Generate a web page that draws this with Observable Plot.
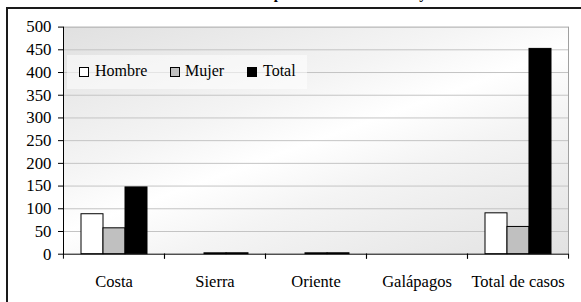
<!DOCTYPE html>
<html>
<head>
<meta charset="utf-8">
<script src="https://cdn.jsdelivr.net/npm/d3@7"></script>
<script src="https://cdn.jsdelivr.net/npm/@observablehq/plot@0.6"></script>
<style>
  html, body { margin: 0; padding: 0; background: #fff; }
  body { width: 581px; height: 302px; position: relative; overflow: hidden; font-family: "Liberation Serif", "DejaVu Serif", serif; }
  #frame { position: absolute; left: 6px; top: 7px; width: 700px; height: 400px; border: 2px solid #1a1a1a; box-sizing: border-box; }
  #title { position: absolute; left: 232px; top: -13.5px; font-size: 15px; line-height: 15px; font-weight: bold; white-space: nowrap; color: #000; }
  #bg { position: absolute; left: 63px; top: 26.6px; width: 505.7px; height: 227.1px;
        background: linear-gradient(160deg, #e0e0e0 0%, #f4f4f4 35%, #ffffff 50%, #f4f4f4 65%, #e2e2e2 100%); }
  #chart { position: absolute; left: 0; top: 0; }
  #legend { position: absolute; left: 67px; top: 55px; width: 240px; height: 34px; background: rgba(255,255,255,0.55); }
  .sw { position: absolute; top: 12px; width: 8px; height: 8px; border: 1px solid #000; box-sizing: content-box; }
  .lt { position: absolute; top: 8px; font-size: 16px; line-height: 16px; color: #000; white-space: nowrap; font-family: "Liberation Serif", "DejaVu Serif", serif; }
</style>
</head>
<body>
<div id="frame"></div>
<div id="title">Casos <span id="tp">p</span>or zona de residencia <span id="ty">y</span> sexo</div>
<div id="bg"></div>
<div id="chart"></div>
<div id="legend"></div>
<script>
// ---- data ----
const categories = ["Costa", "Sierra", "Oriente", "Galápagos", "Total de casos"];
const series = ["Hombre", "Mujer", "Total"];
const hombre = [88, 0, 0, 0, 90];
const mujer  = [57, 2, 2, 0, 60];
const total  = [147, 2, 2, 0, 452];
const yTicks = [0, 50, 100, 150, 200, 250, 300, 350, 400, 450, 500];
const seriesColors = ["#ffffff", "#c0c0c0", "#000000"];

const valuesBySeries = [hombre, mujer, total];
const data = categories.flatMap((cat, i) =>
  series.map((s, j) => ({cat, serie: s, value: valuesBySeries[j][i]}))
);

const W = 581, H = 302;
const mL = 63, mR = 12.3, mT = 26.6, mB = 48.3;
const halfBand = (W - mL - mR) / categories.length / 2;
const serifFont = "'Liberation Serif', 'DejaVu Serif', serif";

const chart = Plot.plot({
  width: W, height: H,
  marginLeft: mL, marginRight: mR, marginTop: mT, marginBottom: mB,
  style: { fontFamily: serifFont, fontSize: "16px", color: "#000", background: "transparent", overflow: "visible" },
  fx: { domain: categories, padding: 0, label: null, axis: null },
  x: { domain: series, paddingInner: 0, paddingOuter: 0.73, align: 0.5, axis: null },
  y: { domain: [0, 500], label: null, axis: null },
  color: { domain: series, range: seriesColors },
  marks: [
    Plot.ruleY(yTicks.filter(v => v > 0 && v < 500), { stroke: "#c4c4c4", strokeWidth: 1 }),
    Plot.ruleY([500], { stroke: "#a8a8a8", strokeWidth: 1 }),
    Plot.frame({ anchor: "right", stroke: "#a0a0a0", facetAnchor: "right" }),
    Plot.barY(data, { fx: "cat", x: "serie", y: "value", fill: "serie", stroke: "#000", strokeWidth: 1 }),
    Plot.ruleY([0], { stroke: "#000", strokeWidth: 1 }),
    Plot.frame({ anchor: "left", stroke: "#000", facetAnchor: "left" }),
    Plot.axisY({ ticks: yTicks, tickSize: 5, tickPadding: 7, label: null, fontSize: 16.8, stroke: "#000", fontFamily: serifFont }),
    Plot.axisFx({ anchor: "bottom", tickSize: 0, tickPadding: 21, label: null, fontSize: 16.5, fontFamily: serifFont }),
    Plot.axisFx({ anchor: "bottom", tickSize: 5, text: null, label: null, dx: -halfBand, stroke: "#000" }),
    Plot.axisFx([categories[categories.length - 1]], { anchor: "bottom", tickSize: 5, text: null, label: null, dx: halfBand, stroke: "#000" })
  ]
});
document.getElementById("chart").appendChild(chart);

// ---- legend ----
const legend = document.getElementById("legend");
const swLeft = [12, 103, 180];
const txLeft = [28, 118, 196];
series.forEach((s, i) => {
  const sw = document.createElement("div");
  sw.className = "sw";
  sw.style.left = swLeft[i] + "px";
  sw.style.background = seriesColors[i];
  legend.appendChild(sw);
  const t = document.createElement("div");
  t.className = "lt";
  t.style.left = txLeft[i] + "px";
  t.textContent = s;
  legend.appendChild(t);
});

// ---- title placement (only descenders show at the top edge, as in the reference) ----
const title = document.getElementById("title");
const cx = el => { const r = el.getBoundingClientRect(); return r.left + r.width / 2; };
const gap = cx(document.getElementById("ty")) - cx(document.getElementById("tp"));
const words = 4;
title.style.wordSpacing = ((145 - gap) / words) + "px";
const shift = 278 - cx(document.getElementById("tp"));
title.style.left = (parseFloat(getComputedStyle(title).left) + shift) + "px";
</script>
</body>
</html>
